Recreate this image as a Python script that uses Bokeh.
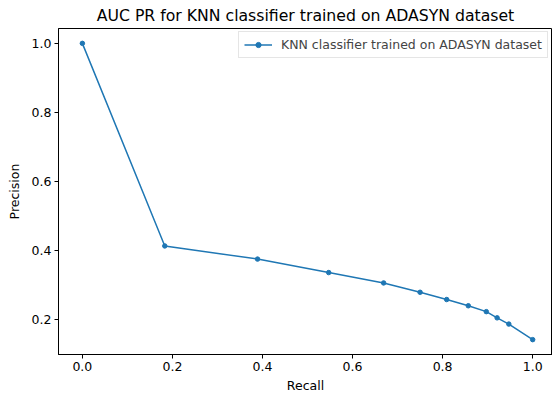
from bokeh.plotting import figure
from bokeh.models import Range1d, FixedTicker, NumeralTickFormatter, Legend, LegendItem
from bokeh.embed import file_html
from bokeh.resources import INLINE

recall = [0.0, 0.183, 0.389, 0.547, 0.669, 0.750, 0.809, 0.857, 0.897, 0.921, 0.947, 1.0]
precision = [1.0, 0.414, 0.376, 0.337, 0.307, 0.280, 0.259, 0.241, 0.224, 0.206, 0.188, 0.143]
x_ticks = [0.0, 0.2, 0.4, 0.6, 0.8, 1.0]
y_ticks = [0.2, 0.4, 0.6, 0.8, 1.0]
series_label = "KNN classifier trained on ADASYN dataset"
title_text = "AUC PR for KNN classifier trained on ADASYN dataset"

FONT = "DejaVu Sans"
COLOR = "#1f77b4"

p = figure(width=552, height=395, output_backend="svg", toolbar_location=None,
           x_range=Range1d(-0.053, 1.044), y_range=Range1d(0.1, 1.043),
           min_border_left=58, min_border_right=0, min_border_top=27, min_border_bottom=41)

p.title.text = title_text
p.title.align = "center"
p.title.text_font = FONT
p.title.text_font_size = "15.7px"
p.title.text_font_style = "normal"
p.title.text_color = "#000000"
p.title.standoff = 7

r_line = p.line(recall, precision, line_color=COLOR, line_width=1.5)
r_pts = p.scatter(recall, precision, size=4.5, fill_color=COLOR, line_color=COLOR)

legend = Legend(items=[LegendItem(label=series_label, renderers=[r_line, r_pts])],
                location=(180, 296))
legend.label_text_font = FONT
legend.label_text_font_size = "12.5px"
legend.border_line_color = "#cccccc"
legend.border_line_width = 1
legend.glyph_width = 28
legend.glyph_height = 13
legend.label_standoff = 9
legend.padding = 5
legend.margin = 0
legend.spacing = 0
legend.label_height = 13
p.add_layout(legend)

p.xgrid.visible = False
p.ygrid.visible = False
p.outline_line_color = "#000000"
p.outline_line_width = 1
p.outline_line_alpha = 1

for ax, ticks in ((p.xaxis, x_ticks), (p.yaxis, y_ticks)):
    ax.ticker = FixedTicker(ticks=ticks)
    ax.formatter = NumeralTickFormatter(format="0.0")
    ax.major_label_text_font = FONT
    ax.major_label_text_font_size = "12.5px"
    ax.major_label_text_color = "#000000"
    ax.axis_label_text_font = FONT
    ax.axis_label_text_font_size = "12.5px"
    ax.axis_label_text_font_style = "normal"
    ax.axis_label_text_color = "#000000"
    ax.axis_line_color = "#000000"
    ax.major_tick_line_color = "#000000"
    ax.major_tick_out = 4
    ax.major_tick_in = 0
    ax.minor_tick_line_color = None
    ax.major_label_standoff = 3

p.xaxis.axis_label = "Recall"
p.yaxis.axis_label = "Precision"
p.xaxis.axis_label_standoff = 4
p.yaxis.axis_label_standoff = 7

open("out.html", "w").write(file_html(p, INLINE))
